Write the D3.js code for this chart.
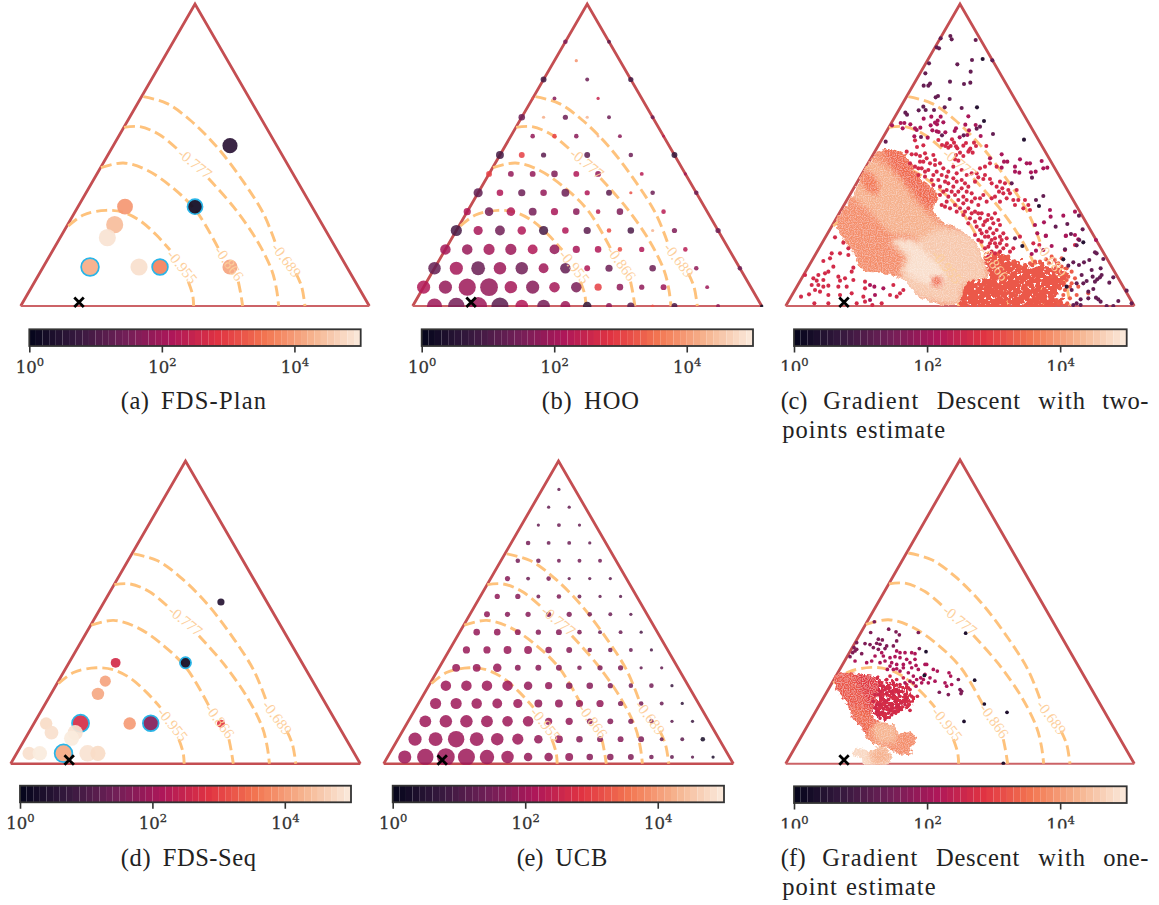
<!DOCTYPE html>
<html>
<head>
<meta charset="utf-8">
<script src="https://cdn.jsdelivr.net/npm/d3@7"></script>
<style>
  body { margin: 0; background: #fff; }
  svg { display: block; }
</style>
</head>
<body>
<svg id="chart" width="1159" height="905"></svg>
<script>
// simplex coordinates: base runs 0..1046, apex sits at height 906
const simplexW = 1046, simplexH = 906;

// colour bar
const barTicks = [0, 2, 4];
const rocketStops = ['#03051a', '#35193e', '#701f57', '#ad1759', '#e13342', '#f37651', '#f6b48f', '#faebdd'];

// optimum (black cross), same in every panel
const optimum = [175, 11];

// contours: level, part before the label, part after it, label position, label angle
const contourLevels = ['-0.955', '-0.866', '-0.777', '-0.689'];
const contourBefore = [
  [[143,240],[188,273],[256,287],[308,281],[358,256],[408,212],[448,168]],
  [[241,415],[308,429],[378,408],[458,353],[528,283],[593,173]],
  [[310,536],[358,538],[418,513],[478,463]],
  [[368,628],[438,608],[508,558],[588,478],[668,373],[728,278],[763,193]]
];
const contourAfter = [
  [[503,73],[516,33],[519,0]],
  [[653,73],[660,38],[666,0]],
  [[563,383],[638,298],[708,198],[753,108],[768,48],[774,0]],
  [[826,98],[843,58],[853,0]]
];
const contourLabelAt = [[485,118],[626,128],[523,428],[798,138]];
const contourLabelAngle = [51, 54, 39, 53];

// (a) FDS-Plan
const planX = [628,523,313,282,260,208,355,418,628];
const planY = [481,298,298,244,205,117,117,117,117];
const planLogCount = [0.55,0.15,3.95,4.4,4.9,4.2,4.85,3.7,4.1];
const planWeight = [484,484,529,625,625,676,625,529,484];
const planRinged = [0,1,0,0,0,1,0,1,0];

// (d) FDS-Seq
const seqX = [629,523,314,283,261,209,356,419,629,106,122,193,182,55,87,158,230,261];
const seqY = [484,302,302,247,209,121,120,121,120,120,93,93,76,31,31,31,31,31];
const seqLogCount = [0.5,0.15,2.65,4.1,4.15,2.7,4.0,1.65,2.9,4.8,4.85,4.9,5.0,4.85,5.0,4.15,4.9,4.8];
const seqWeight = [100,256,196,256,324,625,324,529,121,324,400,484,484,361,441,676,576,484];
const seqRinged = [0,1,0,0,0,1,0,1,0,0,0,0,0,0,0,1,0,0];

// (b) HOO, lattice rows from the base upward, null = no point
const hooWeight = [
  [null,484,576,676,625,324,324,196,144,64,100,16,64,null,25,null,16],
  [361,361,625,676,324,361,225,225,100,81,49,64,null,25],
  [324,361,400,324,324,196,225,64,100,null,81,null,36,null,36],
  [225,225,256,256,196,196,100,81,36,49,null,36],
  [256,169,196,144,169,81,100,36,81,16,49,null,49],
  [100,144,144,121,100,81,36,81,null,36],
  [169,81,100,81,121,49,64,16,36,null,36],
  [64,64,64,81,64,64,null,25,null,16],
  [121,64,49,null,64,null,36,null,64],
  [null,36,36,36,9,25,null,9],
  [81,16,49,16,25,null,25],
  [9,25,null,16],
  [64,null,25,null,49],
  [null,16],
  [36,null,25]
];
const hooLogCount = [
  [null,1.95,1.5,1.95,1.2,2.2,1.5,1.95,0.7,1.8,1.2,3.2,1.0,null,1.8,null,0.1],
  [2.2,1.85,1.95,1.85,2.05,1.7,2.05,1.55,3.0,1.8,1.8,1.95,null,1.95],
  [1.3,2.05,1.35,1.95,1.45,2.0,1.3,2.2,1.4,null,1.4,null,1.8,null,1.4],
  [2.05,1.9,2.05,1.95,2.2,1.85,2.1,2.2,3.1,2.2,null,2.3],
  [0.95,2.1,1.45,2.2,0.95,2.2,1.2,3.1,1.0,4.3,1.6,null,1.4],
  [2.2,1.5,2.2,1.5,2.1,1.75,2.3,1.6,null,2.3],
  [1.25,2.2,1.4,1.85,1.4,2.2,1.2,3.2,1.4,null,1.4],
  [3.0,1.85,1.85,1.6,2.2,1.85,null,2.3,null,2.0],
  [0.9,3.0,1.2,null,1.2,null,1.4,null,0.7],
  [null,1.85,3.0,1.75,4.3,1.75,null,2.3],
  [1.4,4.2,1.4,4.3,1.4,null,1.4],
  [3.2,1.7,null,2.5],
  [0.9,null,1.4,null,0.9],
  [null,3.9],
  [1.6,null,1.2]
];

// (e) UCB, lattice rows from the base upward
const ucbWeight = [
  [361,576,676,625,441,324,144,144,121,81,81,64,36,25,16,16],
  [361,400,576,400,324,256,144,121,81,64,64,64,25,25,36],
  [289,324,324,289,225,225,100,100,64,64,49,36,16,16],
  [256,256,225,196,169,121,121,100,100,49,36,25,16],
  [225,225,225,225,144,100,81,81,49,36,36,16],
  [121,121,144,64,64,64,36,49,49,16,16],
  [100,100,121,121,81,64,36,36,25,16],
  [81,81,64,49,64,36,25,25,16],
  [64,49,49,49,49,36,25,16],
  [49,49,25,36,25,16,16],
  [49,25,36,16,16,16],
  [36,36,25,25,25],
  [36,25,25,16],
  [16,25,16],
  [16,16],
  [16]
];
const ucbLogCount = [
  [1.95,1.95,1.95,1.95,1.95,1.95,1.85,1.85,1.85,1.7,1.7,1.6,1.5,1.3,1.2,0.4],
  [1.95,1.95,1.95,1.95,1.95,1.95,1.85,1.85,1.7,1.7,1.7,1.6,1.4,1.2,0.3],
  [1.95,1.95,1.95,1.95,1.95,1.95,1.85,1.85,1.7,1.7,1.6,1.5,1.2,0.8],
  [1.95,1.95,1.95,1.95,1.95,1.85,1.85,1.85,1.85,1.6,1.5,1.4,0.7],
  [1.95,1.95,1.95,1.95,1.85,1.85,1.7,1.7,1.6,1.5,1.5,0.8],
  [1.9,1.9,1.9,1.75,1.75,1.75,1.6,1.6,1.6,1.3,1.3],
  [1.9,1.9,1.9,1.9,1.8,1.7,1.6,1.5,1.4,1],
  [1.85,1.85,1.8,1.7,1.7,1.6,1.4,1.4,1],
  [1.8,1.7,1.7,1.6,1.6,1.5,1.4,1.2],
  [1.8,1.7,1.5,1.6,1.4,1.3,1.2],
  [1.7,1.4,1.6,1.3,1.3,1.2],
  [1.5,1.5,1.5,1.5,1.5],
  [1.5,1.4,1.4,1.3],
  [1.3,1.4,1.3],
  [1.3,1.3],
  [1.3]
];

// (c) Gradient descent, two-points estimate: dense regions, the first is the outline
const gdTwoRegionLevels = [3.85, 3.45, 4.25, 3.6, 4.55, 4.85, 3.45];
const gdTwoRegions = [
  [[288,468],[353,458],[393,398],[458,328],[443,298],[463,258],[513,233],[563,198],[593,138],[608,93],[543,68],[523,18],[493,3],[403,28],[353,78],[293,98],[233,108],[208,148],[158,228],[153,258],[193,318],[243,418]],
  [[290,478],[345,470],[398,398],[470,318],[433,293],[388,338],[328,408]],
  [[248,440],[298,420],[348,370],[400,300],[478,238],[568,198],[588,148],[598,98],[538,68],[458,148],[378,208],[318,218],[258,278],[198,338],[228,398]],
  [[238,408],[278,368],[273,333],[228,368]],
  [[318,193],[398,198],[468,233],[558,208],[588,158],[598,78],[538,68],[518,8],[468,8],[398,28],[348,68],[348,118],[358,148]],
  [[323,193],[378,193],[428,153],[478,98],[468,58],[418,68],[358,108],[373,148]],
  [[438,83],[463,88],[470,68],[448,56]]
];
const gdTwoCloudLevel = 3.25;
const gdTwoCloud = [[593,148],[653,155],[718,125],[783,125],[840,108],[838,60],[815,35],[845,0],[523,0],[538,68],[608,93]];

// (c) single iterates, grouped by visit count
const gdTwoLevels = [0.5, 1.3, 2.1, 2.65, 3.3];
const gdTwoDark = [[591,741],[574,596],[595,555],[715,499],[760,300],[710,180],[893,191],[833,140],[843,58]];
const gdTwoPurple = [[465,803],[494,810],[498,800],[453,776],[460,773],[570,798],[430,728],[515,725],[559,738],[620,737],[555,703],[419,698],[493,673],[535,666],[554,670],[414,661],[428,661],[433,667],[450,626],[457,630],[492,621],[528,594],[413,598],[477,596],[399,587],[420,588],[445,588],[359,580],[364,574],[622,516],[300,493],[469,512],[406,507],[534,512],[573,532],[583,538],[678,368],[739,385],[751,318],[773,330],[880,271],[810,238],[688,203],[891,230],[845,246],[856,216],[881,198],[873,182],[838,170],[928,161],[933,158],[953,141],[911,138],[895,131],[863,131],[880,123],[848,121],[918,108],[945,113],[888,93],[921,88],[948,93],[943,86],[935,80],[928,73],[983,86],[971,70],[903,75],[893,68],[873,68],[858,48],[923,51],[908,43],[1023,46],[931,25],[885,20],[908,23],[873,8],[998,15],[945,13],[1038,8],[963,0],[885,3],[983,0],[863,3],[938,20]];
const gdTwoMagenta = [[548,569],[414,562],[437,568],[465,568],[456,556],[448,550],[473,551],[454,545],[435,542],[345,549],[356,549],[374,545],[319,542],[351,533],[388,533],[404,535],[393,528],[511,533],[539,544],[570,543],[507,525],[550,527],[440,527],[453,524],[459,522],[479,521],[386,509],[426,505],[545,513],[522,506],[585,510],[648,455],[613,443],[655,433],[665,433],[703,440],[688,418],[723,428],[733,428],[768,435],[736,401],[750,403],[773,413],[785,415],[701,400],[688,403],[648,415],[793,288],[833,271],[795,268],[868,283],[775,251],[748,243],[840,210],[868,213],[878,200],[780,210],[755,218],[841,211],[781,211],[931,198],[798,180],[751,166],[738,156],[773,168],[253,63],[266,58],[268,33],[253,18],[293,53]];
const gdTwoRed = [[388,497],[458,498],[499,500],[505,490],[484,488],[541,489],[565,490],[571,480],[554,472],[533,481],[602,480],[511,479],[495,480],[479,480],[469,483],[413,482],[394,477],[515,473],[488,475],[551,468],[511,453],[523,460],[533,450],[548,463],[561,460],[508,440],[518,436],[633,418],[598,418],[583,413],[613,428],[573,398],[578,386],[593,381],[613,381],[643,373],[658,368],[693,348],[668,348],[653,338],[673,338],[640,343],[628,328],[643,313],[663,323],[683,318],[698,318],[718,318],[728,303],[733,288],[713,293],[688,303],[703,208],[663,183],[643,188],[683,173],[743,188],[761,183],[838,168],[868,183],[363,463],[378,455],[391,455],[403,450],[418,458],[443,453],[403,433],[423,443],[433,428],[448,423],[373,428],[388,418],[408,413],[428,408],[453,403],[473,413],[468,393],[488,403],[503,418],[528,408],[398,393],[418,388],[443,393],[458,378],[478,373],[503,383],[528,378],[558,398],[548,358],[528,353],[503,358],[483,348],[463,358],[443,363],[463,333],[488,328],[508,333],[533,328],[558,338],[583,323],[578,303],[558,313],[533,308],[508,303],[483,313],[468,303],[493,293],[523,293],[548,293],[568,283],[588,278],[608,273],[628,278],[533,273],[553,263],[583,263],[605,258],[623,248],[643,243],[573,238],[593,243],[613,233],[633,228],[653,218],[568,213],[588,218],[608,208],[628,203],[588,193],[613,188],[633,178],[653,173],[598,173],[618,163],[673,163],[148,206],[173,190],[188,173],[138,158],[163,158],[188,153],[133,143],[113,135],[143,118],[128,103],[118,98],[203,115],[198,103],[158,88],[178,83],[163,76],[203,78],[183,58],[158,58],[98,93],[83,83],[93,76],[113,78],[78,63],[98,63],[113,58],[128,61],[88,48],[103,43],[128,33],[70,35],[46,28],[58,93],[86,8],[163,33],[198,38],[238,73],[238,53],[238,13],[323,63],[313,33],[343,38],[353,48],[333,28],[288,8],[213,8],[260,3],[128,8],[233,28],[473,343],[498,343],[518,343],[543,343],[478,298],[513,283],[538,283],[558,278],[578,278],[548,248],[568,253],[598,253],[618,263],[638,258],[583,228],[603,223],[623,218],[643,208],[578,198],[598,208],[618,198],[608,178],[628,188],[648,198],[663,203],[608,148],[628,158],[643,163],[518,318],[543,318],[568,323],[593,333],[603,313],[618,323],[438,378],[418,403],[398,413],[413,433],[448,438],[463,428],[483,388],[513,398],[543,393],[568,373],[538,368],[513,373],[488,368],[598,393],[618,368],[633,358],[650,353]];
const gdTwoOrange = [[623,153],[653,143],[683,133],[718,123],[748,133],[763,133],[781,140],[798,148],[818,128],[843,113],[858,103],[848,88],[868,83],[828,73],[858,68],[823,53],[908,38],[833,33],[853,23],[818,8],[813,18],[733,128],[768,118],[790,128],[808,138],[828,118],[838,98],[813,103],[798,88],[843,78],[853,58],[838,48],[878,58],[873,33],[845,8],[703,118],[668,148],[638,158],[828,143],[810,113]];

// (f) Gradient descent, one-point estimate: dense regions
const gdOneCloudLevel = 2.7;
const gdOneCloud = [[263,256],[323,241],[368,216],[388,191],[358,161],[313,141],[288,131],[263,146],[258,191]];
const gdOneRegionLevels = [3.25, 2.9, 3.45, 3.85, 4.3, 4.75, 4.25];
const gdOneOutlines = [0, 3, 5];
const gdOneRegions = [
  [[143,261],[173,271],[223,266],[268,256],[275,201],[258,146],[278,121],[253,101],[238,86],[228,111],[203,131],[188,171],[163,206],[148,231]],
  [[213,275],[280,262],[300,246],[305,205],[268,176],[263,146],[248,180],[225,225]],
  [[188,171],[258,146],[278,121],[253,101],[238,86],[228,111],[203,131]],
  [[263,116],[293,123],[328,111],[333,93],[383,91],[390,66],[373,46],[378,28],[333,31],[308,46],[263,61],[238,86]],
  [[263,116],[293,123],[328,111],[333,70],[283,61],[263,86]],
  [[208,46],[228,46],[253,36],[278,51],[308,41],[318,21],[303,-3],[233,-3],[228,16],[205,26]],
  [[253,36],[278,51],[308,41],[318,21],[303,1],[263,1]]
];

// (f) single iterates, grouped by visit count
const gdOneLevels = [0.4, 1.6, 2.15, 2.6];
const gdOneDark = [[540,389],[421,334],[416,263],[567,249],[596,178],[664,153],[535,126],[653,1]];
const gdOnePurple = [[266,423],[309,401],[255,391],[331,393],[341,384],[398,391],[278,371],[290,369],[273,359],[213,361],[238,358],[253,355],[205,346],[208,336],[201,331],[228,328],[213,341],[193,319],[283,356],[303,351],[323,351],[333,366],[263,346],[278,341],[298,343],[401,343],[461,213],[488,206],[523,221],[528,216],[526,209],[518,251]];
const gdOneMagenta = [[288,331],[333,336],[343,331],[358,331],[378,331],[388,328],[268,321],[293,321],[313,316],[328,319],[343,316],[363,311],[388,311],[243,301],[258,306],[283,301],[298,306],[318,301],[333,296],[353,296],[373,301],[391,293],[418,296],[208,306],[423,296],[443,281],[455,276],[490,271],[495,261],[305,281],[323,281],[343,276],[368,271],[383,261],[418,266],[433,256],[413,251],[428,241],[448,246],[478,241],[483,231],[498,236],[408,241],[391,231],[373,246],[358,241],[313,291],[333,283],[353,286],[378,286],[398,281],[405,256],[393,251],[383,241]];
const gdOneCrimson = [[368,226],[395,201],[378,201],[363,196],[358,176],[373,159],[303,251],[323,241],[343,236],[293,231],[313,226],[333,221],[348,216],[283,216],[303,211],[323,206],[343,201],[268,206],[288,196],[308,191],[328,186],[348,181],[263,186],[283,176],[303,171],[323,166],[343,163],[268,166],[288,153],[308,151],[328,156],[283,136],[298,133],[318,146],[313,261],[333,251],[353,256],[363,236],[373,221],[358,206],[338,211],[318,216],[298,221],[278,206],[298,186],[318,176],[338,173],[358,191],[273,176],[293,163],[313,161],[333,171],[278,146],[273,156]];

// caption words
const captionWords = {
  a: [['(a)', 'FDS-Plan']],
  b: [['(b)', 'HOO']],
  c: [['(c)', 'Gradient', 'Descent', 'with', 'two-'], ['points', 'estimate']],
  d: [['(d)', 'FDS-Seq']],
  e: [['(e)', 'UCB']],
  f: [['(f)', 'Gradient', 'Descent', 'with', 'one-'], ['point', 'estimate']]
};

const lineRed = '#c44e52', contourColor = '#fec27c', ringColor = '#29b5e8';

const panels = [
  { id: 'a', left: 20.7, right: 369.3, apex: 4, base: 306, bar: [29.3, 360.7, 329.3, 346], labelY: 372.5, clipY: 380, baseW: 1.9, alpha: 0.92,
    words: [[[120.7,149],[161,266]]], wordY: [408.5] },
  { id: 'b', left: 412.7, right: 761.7, apex: 4, base: 306, bar: [421.7, 753, 329.3, 346], labelY: 372.5, clipY: 380, baseW: 1.9, alpha: 0.86,
    words: [[[541.7,571.7],[584,639]]], wordY: [408.5] },
  { id: 'c', left: 785.7, right: 1134.3, apex: 4, base: 306, bar: [794, 1126.7, 329.3, 346], labelY: 373, clipY: 371, baseW: 1.9, alpha: 1,
    words: [[[780.7,807.3],[823.3,918.3],[936.7,1020],[1038.3,1085],[1102.3,1148.3]], [[782.3,847.3],[856,945]]], wordY: [408.5, 437.5] },
  { id: 'd', left: 10.7, right: 360.3, apex: 461, base: 763.7, bar: [20, 351, 785.7, 802.3], labelY: 829.5, clipY: 840, baseW: 2.6, alpha: 0.92,
    words: [[[120.7,150.7],[162.7,256]]], wordY: [866] },
  { id: 'e', left: 383.7, right: 733.3, apex: 461, base: 763.7, bar: [392.7, 724, 785.7, 802.3], labelY: 829.5, clipY: 840, baseW: 2.6, alpha: 0.86,
    words: [[[516.7,543.3],[555.3,607.3]]], wordY: [866] },
  { id: 'f', left: 785.7, right: 1134.3, apex: 459.7, base: 763.7, bar: [794, 1126.7, 786.3, 803], labelY: 830.5, clipY: 828.5, baseW: 1.9, alpha: 1,
    words: [[[780.7,805.7],[822.3,917.3],[936,1019.3],[1038.3,1085],[1103.3,1148.3]], [[782.3,836.7],[846,935.7]]], wordY: [866, 894.5] }
];

const svg = d3.select('#chart');
const defs = svg.append('defs');

// clouds: rough outline with small holes punched in them
function addSpeckle(id, seed, keep) {
  const f = defs.append('filter').attr('id', id)
    .attr('x', '-8%').attr('y', '-8%').attr('width', '116%').attr('height', '116%');
  f.append('feTurbulence').attr('type', 'fractalNoise').attr('baseFrequency', 0.2)
    .attr('numOctaves', 2).attr('seed', seed).attr('result', 'edge');
  f.append('feDisplacementMap').attr('in', 'SourceGraphic').attr('in2', 'edge')
    .attr('scale', 14).attr('xChannelSelector', 'R').attr('yChannelSelector', 'G').attr('result', 'shape');
  f.append('feTurbulence').attr('type', 'fractalNoise').attr('baseFrequency', 0.3)
    .attr('numOctaves', 2).attr('seed', 4).attr('result', 'noise');
  f.append('feColorMatrix').attr('in', 'noise').attr('type', 'matrix')
    .attr('values', `0 0 0 0 0  0 0 0 0 0  0 0 0 0 0  0 0 0 -12 ${keep}`).attr('result', 'holes');
  f.append('feComposite').attr('in', 'shape').attr('in2', 'holes').attr('operator', 'in');
}
addSpeckle('speckle-c', 11, 8.8);
addSpeckle('speckle-f', 3, 7.6);

// rough edge and fine grain over a whole group of dense regions
const rough = defs.append('filter').attr('id', 'rough')
  .attr('x', '-5%').attr('y', '-5%').attr('width', '110%').attr('height', '110%');
rough.append('feTurbulence').attr('type', 'fractalNoise').attr('baseFrequency', 0.25)
  .attr('numOctaves', 2).attr('seed', 7).attr('result', 'noise');
rough.append('feDisplacementMap').attr('in', 'SourceGraphic').attr('in2', 'noise')
  .attr('scale', 6).attr('xChannelSelector', 'R').attr('yChannelSelector', 'G').attr('result', 'shape');
rough.append('feTurbulence').attr('type', 'fractalNoise').attr('baseFrequency', 0.85)
  .attr('numOctaves', 1).attr('seed', 2).attr('result', 'fine');
rough.append('feColorMatrix').attr('in', 'fine').attr('type', 'matrix')
  .attr('values', '0 0 0 0 1  0 0 0 0 1  0 0 0 0 1  0 0 0 1.0 -0.42').attr('result', 'white');
rough.append('feComposite').attr('in', 'white').attr('in2', 'shape').attr('operator', 'in').attr('result', 'grain');
const roughMerge = rough.append('feMerge');
roughMerge.append('feMergeNode').attr('in', 'shape');
roughMerge.append('feMergeNode').attr('in', 'grain');

// soft inner layers of the dense regions
const soft = defs.append('filter').attr('id', 'soft')
  .attr('x', '-15%').attr('y', '-15%').attr('width', '130%').attr('height', '130%');
soft.append('feGaussianBlur').attr('stdDeviation', 2.4);

// log10(count) -> rocket
const colorScale = d3.scaleLinear()
  .domain(rocketStops.map((_, i) => i / (rocketStops.length - 1) * 5))
  .range(rocketStops)
  .interpolate(d3.interpolateRgb);
const radiusScale = d3.scaleSqrt().domain([0, 900]).range([0.3, 10.2]);

function pointsFromArrays(xs, ys, logs, weights, ringed) {
  return xs.map((x, i) => ({ x, y: ys[i], log: logs[i], weight: weights[i], ring: ringed[i] === 1 }));
}

function latticePoints(weights, logs, step, rowStep, x0, y0) {
  const out = [];
  weights.forEach((row, r) => row.forEach((w, c) => {
    if (w === null) return;
    out.push({ x: x0 + step * c + step / 2 * r, y: y0 + rowStep * r, log: logs[r][c], weight: w, ring: false });
  }));
  return out;
}

function groupPoints(groups, levels, weight) {
  return groups.flatMap((g, i) => g.map(([x, y]) => ({ x, y, log: levels[i], weight, ring: false })));
}

const markData = {
  a: pointsFromArrays(planX, planY, planLogCount, planWeight, planRinged),
  b: latticePoints(hooWeight, hooLogCount, simplexW / 16, simplexH / 16, 0, 0),
  c: groupPoints([gdTwoOrange, gdTwoRed, gdTwoMagenta, gdTwoPurple, gdTwoDark], gdTwoLevels.slice().reverse(), 28),
  d: pointsFromArrays(seqX, seqY, seqLogCount, seqWeight, seqRinged),
  e: latticePoints(ucbWeight, ucbLogCount, 61.5, 53.4, 63, 20),
  f: groupPoints([gdOneCrimson, gdOneMagenta, gdOnePurple, gdOneDark], gdOneLevels.slice().reverse(), 22)
};

panels.forEach(p => {
  const x = d3.scaleLinear().domain([0, simplexW]).range([p.left, p.right]);
  const y = d3.scaleLinear().domain([0, simplexH]).range([p.base, p.apex]);
  const g = svg.append('g').attr('class', 'panel-' + p.id);

  defs.append('clipPath').attr('id', 'clip-' + p.id).append('rect')
    .attr('x', p.left - 14).attr('y', p.apex - 4)
    .attr('width', p.right - p.left + 28).attr('height', p.base - p.apex + 5);
  defs.append('clipPath').attr('id', 'tick-clip-' + p.id).append('rect')
    .attr('x', p.bar[0] - 30).attr('y', p.bar[3] - 5)
    .attr('width', p.bar[1] - p.bar[0] + 60).attr('height', p.clipY - p.bar[3] + 5);

  const line = d3.line().x(d => x(d[0])).y(d => y(d[1]));

  // triangle
  g.append('path')
    .attr('d', line([[0, 0], [simplexW / 2, simplexH], [simplexW, 0]]))
    .attr('fill', 'none').attr('stroke', lineRed).attr('stroke-width', 2.8);
  g.append('path')
    .attr('d', line([[0, 0], [simplexW, 0]]))
    .attr('stroke', p.baseW < 2 ? '#cc6367' : lineRed).attr('stroke-width', p.baseW);

  // contours
  const contourLine = d3.line().x(d => x(d[0])).y(d => y(d[1])).curve(d3.curveCatmullRom);
  contourLevels.forEach((_, i) => {
    [contourBefore[i], contourAfter[i]].forEach(seg => {
      g.append('path').attr('d', contourLine(seg))
        .attr('fill', 'none').attr('stroke', contourColor)
        .attr('stroke-width', 2.9).attr('stroke-dasharray', '11,5');
    });
  });

  const marks = g.append('g').attr('clip-path', `url(#clip-${p.id})`);
  const regionLine = d3.line().x(d => x(d[0])).y(d => y(d[1])).curve(d3.curveCatmullRomClosed);

  if (p.id === 'c' || p.id === 'f') {
    const cloud = p.id === 'c' ? gdTwoCloud : gdOneCloud;
    const cloudLevel = p.id === 'c' ? gdTwoCloudLevel : gdOneCloudLevel;
    marks.append('path').attr('d', regionLine(cloud))
      .attr('fill', colorScale(cloudLevel)).attr('filter', `url(#speckle-${p.id})`);

    const regions = p.id === 'c' ? gdTwoRegions : gdOneRegions;
    const levels = p.id === 'c' ? gdTwoRegionLevels : gdOneRegionLevels;
    const outlines = p.id === 'c' ? [0] : gdOneOutlines;

    // blurred layers stay inside the solid outlines
    const outlineClip = defs.append('clipPath').attr('id', 'outline-' + p.id);
    outlines.forEach(i => outlineClip.append('path').attr('d', regionLine(regions[i])));

    const blob = marks.append('g').attr('filter', 'url(#rough)');
    outlines.forEach(i => blob.append('path').attr('d', regionLine(regions[i])).attr('fill', colorScale(levels[i])));
    const inner = blob.append('g').attr('clip-path', `url(#outline-${p.id})`);
    regions.forEach((r, i) => {
      if (outlines.includes(i)) return;
      inner.append('path').attr('d', regionLine(r))
        .attr('fill', colorScale(levels[i])).attr('filter', 'url(#soft)');
    });
  }

  marks.selectAll('circle').data(markData[p.id]).join('circle')
    .attr('cx', d => x(d.x))
    .attr('cy', d => y(d.y))
    .attr('r', d => radiusScale(d.weight))
    .attr('fill', d => colorScale(d.log))
    .attr('fill-opacity', p.alpha)
    .attr('stroke', d => d.ring ? ringColor : 'none')
    .attr('stroke-width', 1.7);

  // contour labels go above the marks
  contourLevels.forEach((lab, i) => {
    const [lx, ly] = contourLabelAt[i];
    g.append('text')
      .attr('transform', `translate(${x(lx)},${y(ly)}) rotate(${contourLabelAngle[i]})`)
      .attr('text-anchor', 'middle').attr('dy', '0.35em')
      .attr('font-family', '"Liberation Serif", serif').attr('font-size', 15)
      .attr('fill', '#fdcf9c')
      .text(lab);
  });

  // optimum
  g.append('path')
    .attr('transform', `translate(${x(optimum[0])},${y(optimum[1])})`)
    .attr('d', d3.symbol().type(d3.symbolX).size(60)())
    .attr('fill', 'none').attr('stroke', '#000').attr('stroke-width', 2.8);

  // colour bar: 50 flat bands
  const [bx0, bx1, by0, by1] = p.bar;
  const barScale = d3.scaleLinear().domain([0, 5]).range([bx0, bx1]);
  const bands = d3.range(50).map(i => i / 10);
  g.append('g').selectAll('rect').data(bands).join('rect')
    .attr('x', d => barScale(d))
    .attr('y', by0)
    .attr('width', barScale(0.1) - barScale(0))
    .attr('height', by1 - by0)
    .attr('fill', d => colorScale(d + 0.05));
  g.append('rect').attr('x', bx0).attr('y', by0).attr('width', bx1 - bx0).attr('height', by1 - by0)
    .attr('fill', 'none').attr('stroke', '#333').attr('stroke-width', 1.8);

  const axisG = g.append('g').attr('clip-path', `url(#tick-clip-${p.id})`)
    .append('g').attr('transform', `translate(0,${by1})`)
    .call(d3.axisBottom(barScale).tickValues(barTicks).tickSize(6.5));
  axisG.select('.domain').remove();
  axisG.selectAll('.tick line').attr('stroke', '#333').attr('stroke-width', 1.6);
  axisG.selectAll('.tick text').each(function (d) {
    const t = d3.select(this).text('10');
    t.attr('y', p.labelY - by1).attr('dy', 0)
      .attr('font-family', '"DejaVu Serif", serif').attr('font-size', 16.5).attr('fill', '#333')
      .attr('stroke', '#333').attr('stroke-width', 0.3);
    t.append('tspan').attr('dy', -7).attr('font-size', 11.5).text(d);
  });

  // caption
  captionWords[p.id].forEach((words, li) => {
    words.forEach((w, wi) => {
      const [x0, x1] = p.words[li][wi];
      g.append('text').attr('x', x0).attr('y', p.wordY[li])
        .attr('textLength', x1 - x0).attr('lengthAdjust', 'spacing')
        .attr('font-family', '"Liberation Serif", serif').attr('font-size', 24.5)
        .attr('fill', '#222').text(w);
    });
  });
});
</script>
</body>
</html>
